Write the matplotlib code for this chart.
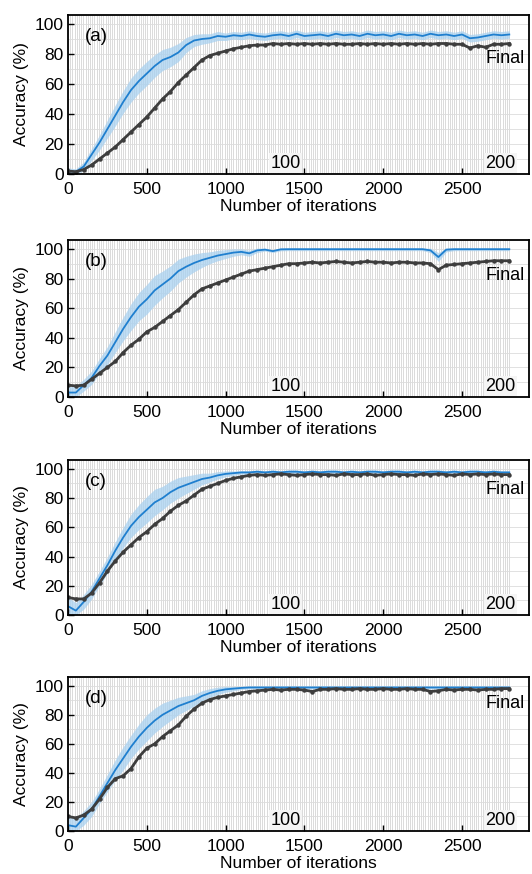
import numpy as np
import matplotlib
matplotlib.use("Agg")
import matplotlib.pyplot as plt

plt.rcParams['font.family'] = ['Liberation Sans', 'DejaVu Sans']

# iterations at which values are read (every 50 iterations)
iters = list(range(0, 2801, 50))
epoch_iters = list(range(0, 2801, 14))  # one epoch = 14 iterations (200 epochs)

panel_labels = ["(a)", "(b)", "(c)", "(d)"]

blue_a = [2, 1.5, 5, 13, 21, 30, 39, 48, 56, 62,
          67, 72, 76, 78, 81, 86, 89, 90, 90.5, 92,
          91.5, 92.5, 92, 93, 92, 91.5, 92.5, 93, 92, 93.5,
          92, 92.5, 93, 92, 93.5, 92.5, 93, 92, 93.5, 92.5,
          93, 92, 93.5, 92.5, 93, 92, 93.5, 92.5, 93, 92,
          93, 90.5, 91, 92, 93, 92.5, 93]
black_a = [2, 1.5, 3, 6, 10, 14, 18, 23, 28, 33,
           38, 44, 50, 55, 61, 66, 71, 76, 79, 80.5,
           82, 83.5, 84.5, 85.5, 86, 86, 87, 86.5, 87, 86.5,
           87, 86.5, 87, 86.5, 87, 86.5, 86.5, 87, 86.5, 87,
           86.5, 87, 86.5, 87, 86.5, 87, 86.5, 87, 87, 86.5,
           86.5, 84, 85.5, 84.5, 86.5, 86.5, 87]
band_a = [2, 2, 3, 4, 5, 6, 7, 7.5, 8, 8,
          8, 7.5, 7, 6.5, 6, 5, 4, 3.5, 3, 3] + [2.5] * 37

blue_b = [3, 3, 8, 13, 21, 28, 37, 46, 54, 61,
          66, 72, 76, 80, 85, 88, 90.5, 92.5, 94, 95.5,
          96.5, 97.5, 98, 97, 99, 99.5, 98.5, 99.7, 99.8, 99.8,
          99.8, 99.8, 99.8, 99.8, 99.8, 99.8, 99.8, 99.8, 99.8, 99.8,
          99.8, 99.8, 99.8, 99.8, 99.8, 99.8, 99, 94.5, 99.5, 99.8,
          99.8, 99.8, 99.8, 99.8, 99.8, 99.8, 99.8]
black_b = [8, 7.5, 8, 12, 16, 20, 24, 30, 35, 39,
           44, 47, 51, 55, 59, 64, 69, 73, 75, 77,
           79, 81, 83, 85, 86, 87, 88, 89, 90, 90,
           90.5, 91, 90.5, 91, 91.5, 91, 90.5, 91, 91.5, 91,
           91, 90.5, 91, 91, 90.5, 90.5, 90, 86, 89, 89.5,
           90, 90.5, 91, 91.5, 92, 92, 92]
band_b = [4, 4, 4, 4.5, 5, 6, 7, 8, 9, 9.5,
          10, 10, 9, 8.5, 8, 7, 6, 5, 4, 3.5,
          3, 2.5, 2, 2, 1.5, 1, 1, 1, 1, 1,
          1, 1, 1, 1, 1, 1, 1, 1, 1, 1,
          1, 1, 1, 1, 1, 1, 1.5, 3, 1.5, 1,
          1, 1, 1, 1, 1, 1, 1]

blue_c = [6, 3, 9, 16, 25, 34, 44, 53, 61, 67,
          72, 77, 80, 84, 87, 89, 91, 93, 94, 95.5,
          96.5, 97, 97.5, 97.5, 98, 97.5, 98, 97.5, 98, 98,
          97.5, 98, 97.5, 98, 98, 97.5, 98, 97.5, 98, 98,
          97.5, 98, 98, 97.5, 98, 97.5, 98, 98, 97.5, 98,
          97.5, 98, 98, 97.5, 98, 97.5, 97.5]
black_c = [12, 11, 11, 15, 22, 30, 37, 43, 48, 53,
           57, 62, 66, 71, 75, 78, 82, 86, 88, 90,
           92, 93.5, 94.5, 95.5, 96, 95.5, 96, 96.5, 96, 95.5,
           96, 96.5, 96, 96, 95.5, 96.5, 96, 96, 96.5, 95.5,
           96, 96.5, 96, 96, 95.5, 96.5, 96, 96.5, 96, 95.5,
           96.5, 96, 96.5, 96, 96.5, 96, 96]
band_c = [6, 5.5, 5, 5, 5, 5.5, 6, 7, 8, 8.5,
          9, 9, 8, 7.5, 7, 6, 5, 4, 3, 2.5,
          2, 1.5, 1.2] + [1.2] * 34

blue_d = [4, 3, 9, 15, 24, 33, 42, 50, 58, 65,
          71, 76, 80, 83, 86, 88, 90, 93, 95, 96.5,
          97.5, 98, 98.5] + [98.8] * 34
black_d = [10, 9, 11, 15, 22, 30, 36, 38, 43, 51,
           57, 60, 65, 69, 73, 79, 84, 88, 90.5, 92,
           93, 94, 95, 96, 96.5, 97, 97.5, 97, 97.5, 97.5,
           97, 96, 97.5, 97.5, 98, 97.5, 97.5, 98, 97.5, 97.5,
           98, 97.5, 97.5, 98, 97.5, 97.5, 96, 96.5, 97.5, 97,
           97.5, 97.5, 97, 97.5, 97.5, 98, 98]
band_d = [6, 5.5, 5, 5, 5, 6, 7, 8, 8, 8.5,
          9, 8.5, 8, 7, 6, 5, 4, 3.5, 3, 2.5,
          2, 1.5, 1] + [1] * 34

blues = [blue_a, blue_b, blue_c, blue_d]
blacks = [black_a, black_b, black_c, black_d]
bands = [band_a, band_b, band_c, band_d]
final_y = [77, 82, 86, 88]
epoch_labels = ["100", "200"]
epoch_label_x = [1380, 2745]

W, H = 532, 874
fig = plt.figure(figsize=(W / 100, H / 100), dpi=100)
boxes = [(15, 174), (240, 397), (460, 615), (677, 831)]
left_px, right_px = 68, 529

x = np.array(iters)
for i, (top, bot) in enumerate(boxes):
    ax = fig.add_axes([left_px / W, 1 - bot / H, (right_px - left_px) / W, (bot - top) / H])
    ax.set_xlim(0, 2925)
    ax.set_ylim(0, 106)
    ax.vlines(epoch_iters, 0, 106, color='#d4d4d4', lw=0.6, zorder=0)
    for yv in range(10, 101, 10):
        ax.axhline(yv, color='#dcdcdc', lw=0.6, zorder=0.5)
    b = np.array(blues[i])
    bw = np.array(bands[i])
    ax.fill_between(x, np.clip(b - bw, 0, None), np.minimum(b + bw, 100.5),
                    color='#a9d1f0', alpha=0.75, lw=0, zorder=1)
    ax.plot(x, b, color='#1f7fcf', lw=1.3, zorder=2)
    ax.plot(x, blacks[i], color='#3d3d3d', lw=2.0, marker='o', ms=2.2,
            zorder=3)
    ax.text(110, 91.5, panel_labels[i], fontsize=13.5, va='center', ha='left', zorder=5)
    ax.text(2650, final_y[i], "Final", fontsize=13, va='center', ha='left', zorder=5)
    for lab, lx in zip(epoch_labels, epoch_label_x):
        ax.text(lx, 1.5, lab, fontsize=13, ha='center', va='bottom', zorder=5,
                bbox=dict(facecolor='#f5f5f5', edgecolor='none', pad=1.0))
    ax.set_xticks([0, 500, 1000, 1500, 2000, 2500])
    ax.set_yticks([0, 20, 40, 60, 80, 100])
    ax.tick_params(axis='both', which='major', direction='in', length=4, width=1,
                   labelsize=12.5)
    ax.tick_params(axis='x', pad=6)
    ax.tick_params(axis='y', pad=3)
    for s in ax.spines.values():
        s.set_linewidth(1.3)
        s.set_color('black')
        s.set_zorder(6)
    ax.set_xlabel("Number of iterations", fontsize=12.5, labelpad=1)
    ax.set_ylabel("Accuracy (%)", fontsize=12.5, labelpad=4)

fig.savefig("out.png", dpi=100)
